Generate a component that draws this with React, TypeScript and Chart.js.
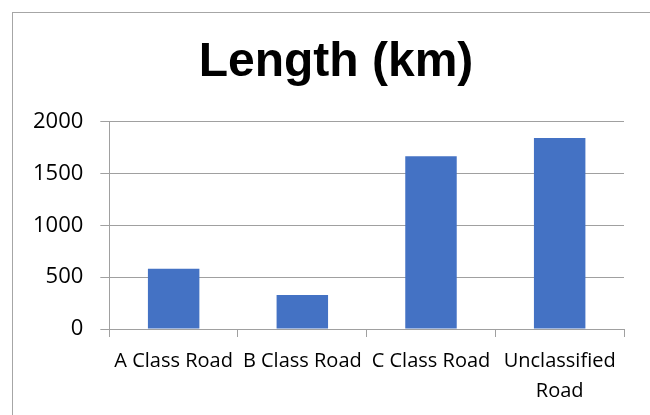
import React, { useEffect, useRef } from "react";
import { Chart, registerables } from "chart.js";

Chart.register(...registerables);

const categories: (string | string[])[] = [
  "A Class Road",
  "B Class Road",
  "C Class Road",
  ["Unclassified", "Road"],
];
const lengthKm: number[] = [580, 328, 1665, 1842];
const yMin = 0;
const yMax = 2000;
const yStep = 500;
const titleText = "Length (km)";

const titleShift = {
  id: "titleShift",
  afterLayout(chart: any) {
    const tb = chart.titleBlock;
    if (tb) {
      tb.left = 22;
      tb.right = 650;
    }
  },
};

export default function App() {
  const canvasRef = useRef<HTMLCanvasElement | null>(null);

  useEffect(() => {
    if (!canvasRef.current) return;
    const chart = new Chart(canvasRef.current, {
      type: "bar",
      data: {
        labels: categories,
        datasets: [
          {
            label: titleText,
            data: lengthKm,
            backgroundColor: "#4472C4",
            borderWidth: 0,
            barPercentage: 0.4,
            categoryPercentage: 1,
          },
        ],
      },
      plugins: [titleShift],
      options: {
        responsive: false,
        animation: false,
        layout: { padding: { left: 16, right: 26, top: 0, bottom: 0 } },
        plugins: {
          legend: { display: false },
          tooltip: { enabled: false },
          title: {
            display: true,
            text: titleText,
            color: "#000000",
            font: { family: "'Liberation Sans', Arial, sans-serif", size: 48, weight: "bold", lineHeight: 1.2 },
            padding: { top: 34, bottom: 30 },
          },
        },
        scales: {
          x: {
            grid: {
              display: true,
              drawOnChartArea: false,
              drawTicks: true,
              tickLength: 8,
              color: "#a0a0a0",
              offset: true,
            },
            border: { display: true, color: "#a0a0a0", width: 1 },
            ticks: {
              color: "#000000",
              font: { family: "'Open Sans', sans-serif", size: 20, lineHeight: 1.5 },
              padding: 9,
              maxRotation: 0,
              minRotation: 0,
              autoSkip: false,
            },
          },
          y: {
            min: yMin,
            max: yMax,
            grid: {
              color: "#a0a0a0",
              drawTicks: true,
              tickLength: 9,
            },
            border: { display: true, color: "#a0a0a0", width: 1 },
            ticks: {
              stepSize: yStep,
              color: "#000000",
              font: { family: "'Open Sans', sans-serif", size: 22 },
              padding: 17,
              callback: (v: any) => String(v),
            },
          },
        },
      },
    });
    return () => chart.destroy();
  }, []);

  return (
    <div style={{ position: "absolute", left: 0, top: 0, width: 650, height: 415, overflow: "hidden", background: "#ffffff" }}>
      <div
        style={{
          position: "absolute",
          left: 12,
          top: 12,
          width: 700,
          height: 500,
          borderLeft: "1px solid #a6a6a6",
          borderTop: "1px solid #a6a6a6",
        }}
      />
      <canvas ref={canvasRef} width={650} height={415} style={{ position: "absolute", left: 0, top: 0 }} />
    </div>
  );
}
